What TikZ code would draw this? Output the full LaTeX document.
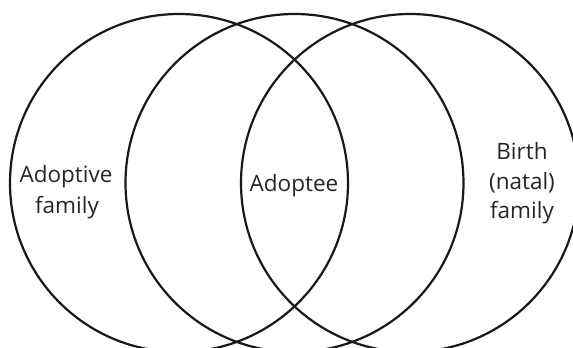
\documentclass[tikz,border=0pt]{standalone}
\usepackage{fontspec}
\setmainfont{Open Sans}
\tikzset{
  ring/.style={draw=black!90, line width=2.2pt},
  lbl/.style={anchor=base, inner sep=0pt, text=black!85, font=\fontsize{22.5}{28}\selectfont}
}
\begin{document}
\begin{tikzpicture}[x=1pt,y=-1pt]
\useasboundingbox (0,0) rectangle (573,348);
\clip (0,0) rectangle (573,348);
\fill[white] (0,0) rectangle (573,348);
\draw[ring] (179,183) circle (169);
\draw[ring] (294.5,183) circle (169);
\draw[ring] (410,183) circle (169);
\node[lbl] (a1) at (66,182) {Adoptive};
\node[lbl] (a2) at (67,213) {family};
\node[lbl] (c1) at (294,191) {Adoptee};
\node[lbl] (b1) at (522,159) {Birth};
\node[lbl] (b2) at (522,189) {(natal)};
\node[lbl] (b3) at (522,218) {family};
\end{tikzpicture}
\end{document}
